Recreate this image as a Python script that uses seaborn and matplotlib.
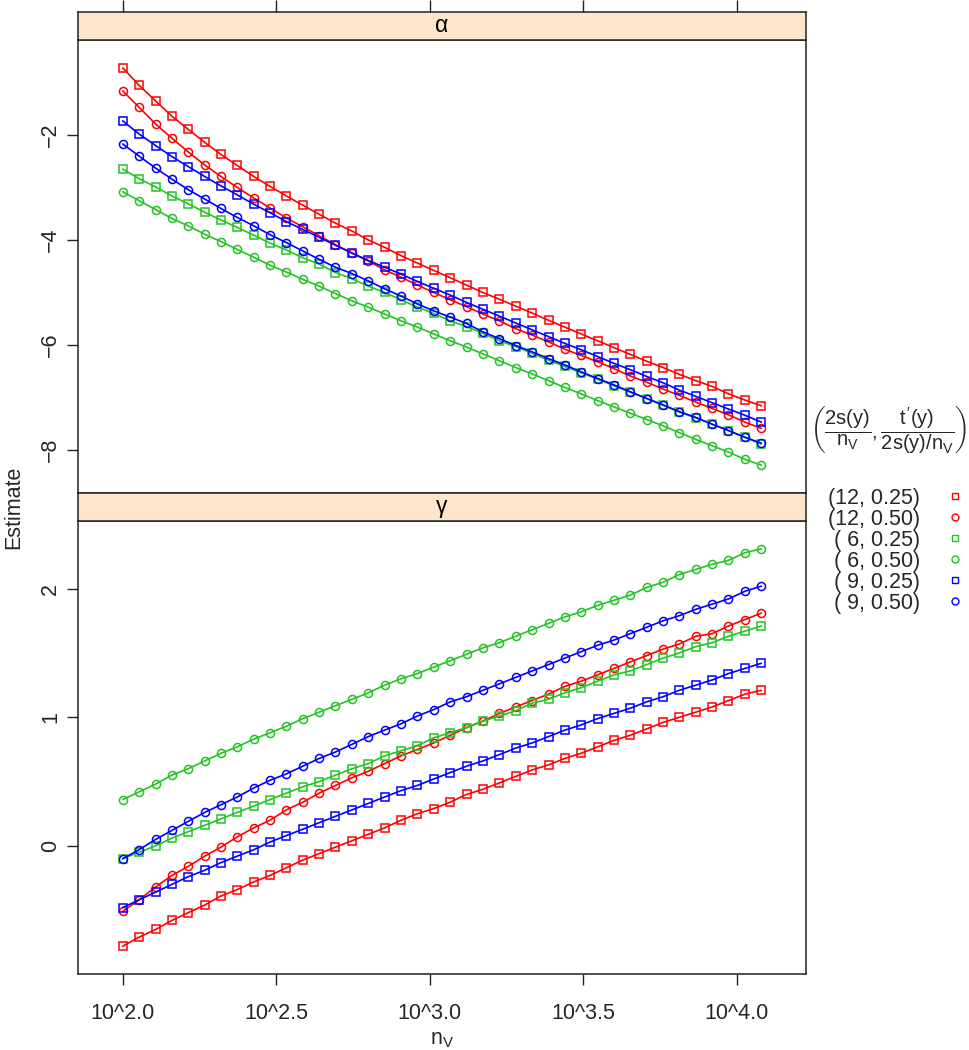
import numpy as np
import pandas as pd
import matplotlib
matplotlib.use("Agg")
import matplotlib.pyplot as plt
from matplotlib.lines import Line2D
import seaborn as sns

# ---------------- data ----------------
log10_nv = [2.000, 2.053, 2.107, 2.160, 2.213, 2.267, 2.320, 2.373, 2.427, 2.480,
            2.533, 2.587, 2.640, 2.693, 2.747, 2.800, 2.853, 2.907, 2.960, 3.013,
            3.067, 3.120, 3.173, 3.227, 3.280, 3.333, 3.387, 3.440, 3.493, 3.547,
            3.600, 3.653, 3.707, 3.760, 3.813, 3.867, 3.920, 3.973, 4.027, 4.080]

series_labels = ["(12, 0.25)", "(12, 0.50)", "( 6, 0.25)", "( 6, 0.50)", "( 9, 0.25)", "( 9, 0.50)"]
series_colors = ["#FF0000", "#FF0000", "#22C422", "#22C422", "#0000FF", "#0000FF"]
series_markers = ["s", "o", "s", "o", "s", "o"]
panel_titles = ["α", "γ"]

x_tick_values = [2.0, 2.5, 3.0, 3.5, 4.0]
x_tick_labels = ["10^2.0", "10^2.5", "10^3.0", "10^3.5", "10^4.0"]
alpha_y_ticks = [-2, -4, -6, -8]
gamma_y_ticks = [0, 1, 2]

# alpha panel
alpha_12_025 = [-0.72, -1.05, -1.35, -1.64, -1.89, -2.14, -2.37, -2.58, -2.79, -2.98,
                -3.16, -3.34, -3.51, -3.68, -3.83, -4.00, -4.14, -4.30, -4.44, -4.58,
                -4.72, -4.86, -5.00, -5.13, -5.26, -5.39, -5.53, -5.66, -5.79, -5.92,
                -6.05, -6.18, -6.31, -6.43, -6.56, -6.68, -6.79, -6.93, -7.05, -7.16]
alpha_12_050 = [-1.16, -1.47, -1.79, -2.06, -2.32, -2.57, -2.79, -3.00, -3.20, -3.39,
                -3.58, -3.75, -3.92, -4.09, -4.25, -4.40, -4.57, -4.71, -4.86, -5.00,
                -5.14, -5.27, -5.41, -5.54, -5.69, -5.81, -5.94, -6.08, -6.20, -6.32,
                -6.45, -6.59, -6.71, -6.84, -6.96, -7.09, -7.21, -7.33, -7.47, -7.59]
alpha_6_025 = [-2.65, -2.83, -2.99, -3.16, -3.31, -3.47, -3.62, -3.76, -3.91, -4.06,
               -4.19, -4.34, -4.46, -4.62, -4.74, -4.88, -5.00, -5.14, -5.28, -5.40,
               -5.54, -5.65, -5.78, -5.92, -6.03, -6.16, -6.29, -6.41, -6.53, -6.65,
               -6.78, -6.90, -7.02, -7.15, -7.28, -7.39, -7.51, -7.63, -7.76, -7.89]
alpha_6_050 = [-3.08, -3.25, -3.42, -3.59, -3.73, -3.89, -4.03, -4.18, -4.33, -4.48,
               -4.61, -4.75, -4.88, -5.02, -5.16, -5.28, -5.41, -5.54, -5.66, -5.79,
               -5.92, -6.04, -6.17, -6.30, -6.43, -6.55, -6.68, -6.81, -6.93, -7.06,
               -7.18, -7.30, -7.42, -7.54, -7.67, -7.80, -7.92, -8.04, -8.18, -8.29]
alpha_9_025 = [-1.73, -1.98, -2.20, -2.41, -2.60, -2.79, -2.97, -3.14, -3.32, -3.48,
               -3.65, -3.80, -3.95, -4.10, -4.25, -4.39, -4.52, -4.65, -4.79, -4.92,
               -5.05, -5.19, -5.32, -5.45, -5.58, -5.71, -5.84, -5.97, -6.09, -6.22,
               -6.35, -6.47, -6.60, -6.72, -6.86, -6.98, -7.10, -7.22, -7.34, -7.47]
alpha_9_050 = [-2.17, -2.40, -2.63, -2.84, -3.04, -3.22, -3.40, -3.57, -3.73, -3.90,
               -4.05, -4.21, -4.37, -4.52, -4.64, -4.78, -4.93, -5.07, -5.22, -5.35,
               -5.47, -5.59, -5.75, -5.88, -6.01, -6.13, -6.26, -6.38, -6.51, -6.64,
               -6.76, -6.89, -7.02, -7.14, -7.27, -7.38, -7.51, -7.63, -7.76, -7.87]

# gamma panel
gamma_12_025 = [-0.78, -0.71, -0.65, -0.58, -0.52, -0.46, -0.39, -0.34, -0.28, -0.23,
                -0.17, -0.11, -0.06, -0.01, 0.04, 0.09, 0.14, 0.20, 0.25, 0.29,
                0.34, 0.40, 0.44, 0.49, 0.54, 0.59, 0.63, 0.68, 0.72, 0.77,
                0.82, 0.86, 0.91, 0.96, 1.00, 1.04, 1.08, 1.13, 1.18, 1.21]
gamma_12_050 = [-0.51, -0.42, -0.32, -0.23, -0.16, -0.08, -0.01, 0.07, 0.14, 0.20,
                0.28, 0.34, 0.41, 0.47, 0.53, 0.58, 0.64, 0.70, 0.75, 0.80,
                0.86, 0.92, 0.97, 1.03, 1.08, 1.13, 1.18, 1.24, 1.28, 1.33,
                1.38, 1.43, 1.48, 1.53, 1.57, 1.63, 1.65, 1.71, 1.76, 1.81]
gamma_6_025 = [-0.10, -0.05, 0.00, 0.06, 0.11, 0.16, 0.21, 0.26, 0.31, 0.36,
               0.41, 0.46, 0.50, 0.55, 0.60, 0.64, 0.70, 0.74, 0.78, 0.84,
               0.88, 0.92, 0.97, 1.01, 1.05, 1.11, 1.14, 1.19, 1.23, 1.28,
               1.33, 1.36, 1.41, 1.46, 1.50, 1.55, 1.58, 1.63, 1.67, 1.71]
gamma_6_050 = [0.36, 0.42, 0.48, 0.55, 0.60, 0.66, 0.72, 0.77, 0.83, 0.88,
               0.93, 0.99, 1.04, 1.09, 1.14, 1.19, 1.25, 1.30, 1.34, 1.39,
               1.44, 1.49, 1.54, 1.58, 1.63, 1.68, 1.73, 1.78, 1.82, 1.87,
               1.91, 1.95, 2.01, 2.05, 2.11, 2.15, 2.19, 2.22, 2.28, 2.31]
gamma_9_025 = [-0.48, -0.42, -0.36, -0.30, -0.24, -0.19, -0.13, -0.08, -0.03, 0.03,
               0.08, 0.13, 0.18, 0.23, 0.28, 0.33, 0.38, 0.43, 0.47, 0.52,
               0.57, 0.62, 0.66, 0.71, 0.76, 0.80, 0.85, 0.90, 0.94, 0.99,
               1.03, 1.07, 1.12, 1.16, 1.21, 1.25, 1.29, 1.34, 1.38, 1.42]
gamma_9_050 = [-0.10, -0.03, 0.05, 0.12, 0.19, 0.26, 0.32, 0.38, 0.45, 0.51,
               0.56, 0.62, 0.68, 0.73, 0.79, 0.85, 0.90, 0.95, 1.01, 1.06,
               1.12, 1.16, 1.21, 1.26, 1.31, 1.36, 1.41, 1.46, 1.51, 1.56,
               1.60, 1.65, 1.70, 1.75, 1.79, 1.84, 1.88, 1.92, 1.98, 2.02]

alpha_series = [alpha_12_025, alpha_12_050, alpha_6_025, alpha_6_050, alpha_9_025, alpha_9_050]
gamma_series = [gamma_12_025, gamma_12_050, gamma_6_025, gamma_6_050, gamma_9_025, gamma_9_050]


def long_frame(series_list):
    rows = []
    for lab, ys in zip(series_labels, series_list):
        for xv, yv in zip(log10_nv, ys):
            rows.append({"log10_nv": xv, "estimate": yv, "series": lab})
    return pd.DataFrame(rows)


# ---------------- style ----------------
sns.set_theme(style="white")
plt.rcParams["font.family"] = ["Liberation Sans", "DejaVu Sans"]
plt.rcParams["mathtext.fontset"] = "custom"
plt.rcParams["mathtext.rm"] = "Liberation Sans"
plt.rcParams["mathtext.it"] = "Liberation Sans"
plt.rcParams["mathtext.bf"] = "Liberation Sans:bold"

W, H = 969, 1050
fig = plt.figure(figsize=(W / 100, H / 100), dpi=100)


def box(l, t, r, b):
    return [l / W, 1 - b / H, (r - l) / W, (b - t) / H]


ax_a = fig.add_axes(box(78, 40, 806, 493))
st_a = fig.add_axes(box(78, 12, 806, 40))
ax_g = fig.add_axes(box(78, 521, 806, 974))
st_g = fig.add_axes(box(78, 493, 806, 521))

palette = dict(zip(series_labels, series_colors))
markers = dict(zip(series_labels, series_markers))

xmin, xmax = min(log10_nv), max(log10_nv)
xr = xmax - xmin
xlim = (xmin - 0.07 * xr, xmax + 0.07 * xr)

TXT = 15.5
frame_col = "#222222"

for ax, st, series_list, title, yticks in [
    (ax_a, st_a, alpha_series, panel_titles[0], alpha_y_ticks),
    (ax_g, st_g, gamma_series, panel_titles[1], gamma_y_ticks),
]:
    df = long_frame(series_list)
    sns.lineplot(data=df, x="log10_nv", y="estimate", hue="series", style="series",
                 hue_order=series_labels, style_order=series_labels,
                 palette=palette, markers=markers, dashes=False,
                 estimator=None, sort=False, legend=False, ax=ax,
                 linewidth=1.2, markersize=5.8)
    for ln in ax.lines:
        ln.set_markerfacecolor("none")
        ln.set_markeredgecolor(ln.get_color())
        ln.set_markeredgewidth(1.1)
    ymin, ymax = df["estimate"].min(), df["estimate"].max()
    yr = ymax - ymin
    ax.set_ylim(ymin - 0.07 * yr, ymax + 0.07 * yr)
    ax.set_xlim(*xlim)
    ax.set_xlabel("")
    ax.set_ylabel("")
    ax.set_yticks(yticks)
    ax.tick_params(axis="y", left=True, direction="out", length=8, width=1.0,
                   color=frame_col, labelsize=TXT, pad=4)
    for lab in ax.get_yticklabels():
        lab.set_rotation(90)
        lab.set_va("center")
    ax.set_xticks(x_tick_values)
    for sp in ax.spines.values():
        sp.set_color(frame_col)
        sp.set_linewidth(1.1)
    # strip
    st.set_facecolor("#FFE5CC")
    st.set_xlim(*xlim)
    st.set_ylim(0, 1)
    st.set_yticks([])
    st.set_xticks(x_tick_values)
    st.tick_params(axis="x", bottom=False, labelbottom=False, top=False, labeltop=False)
    for sp in st.spines.values():
        sp.set_color(frame_col)
        sp.set_linewidth(1.1)
    st.text(0.5, 0.5, title, transform=st.transAxes, ha="center", va="center",
            fontsize=TXT + 1, color="black")

# x ticks: top strip has outward ticks on top, bottom panel has labelled ticks
st_a.tick_params(axis="x", top=True, direction="out", length=8.6, width=1.0, color=frame_col)
ax_a.tick_params(axis="x", bottom=False, labelbottom=False)
ax_g.set_xticklabels(x_tick_labels)
ax_g.tick_params(axis="x", bottom=True, direction="out", length=8, width=1.0,
                 color=frame_col, labelsize=TXT, pad=13)

# axis titles
fig.text(14 / W, 1 - 507 / H, "Estimate", rotation=90, ha="center", va="center", fontsize=TXT)
fig.text(442 / W, 1 - 1040 / H, r"$\mathrm{n_V}$", ha="center", va="center", fontsize=TXT)

# legend
fig.text(889 / W, 1 - 430 / H,
         r"$\left(\dfrac{2s(y)}{n_V},\dfrac{t'(y)}{2s(y)/n_V}\right)$",
         ha="center", va="center", fontsize=14.5)
handles = [Line2D([], [], linestyle="none", marker=m, markersize=5,
                  markerfacecolor="none", markeredgecolor=c, markeredgewidth=1.0)
           for m, c in zip(series_markers, series_colors)]
fig.legend(handles, series_labels, loc="upper left", bbox_to_anchor=(828 / W, 1 - 488 / H),
           frameon=False, markerfirst=False, handlelength=0.8, handletextpad=1.2,
           labelspacing=0.0, fontsize=TXT, borderpad=0, borderaxespad=0)

fig.savefig("out.png", dpi=100)
